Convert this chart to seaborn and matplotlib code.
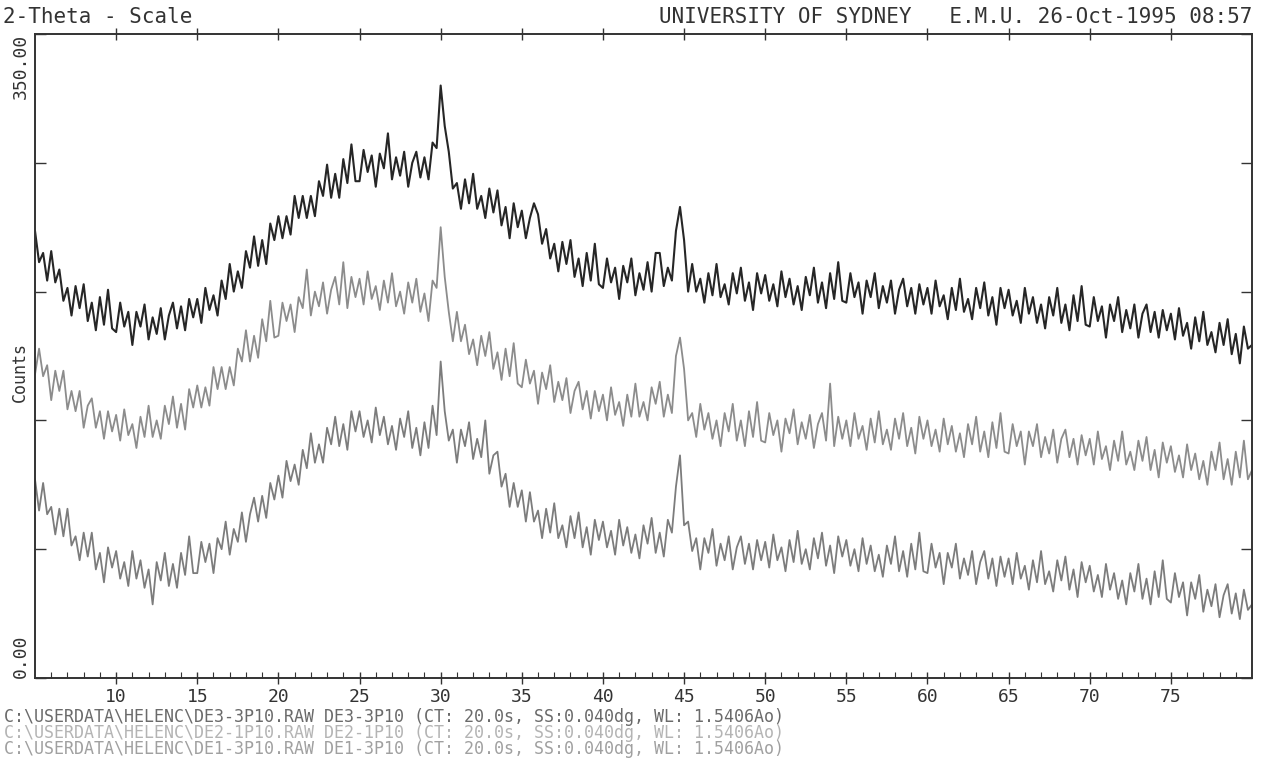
import numpy as np
import pandas as pd
import matplotlib
matplotlib.use("Agg")
import matplotlib.pyplot as plt
import seaborn as sns

# 2-theta grid: 5.00 .. 80.00 deg, 0.25 deg per reading
two_theta = np.arange(5.0, 80.001, 0.25)

# counts, one row per 5 deg block (20 readings) + the 80 deg end point
de3_3p10 = [
    243, 226, 231, 216, 232, 215, 222, 205, 212, 197, 213, 201, 214, 194, 204, 189, 207, 192, 211, 190,
    188, 204, 191, 199, 181, 199, 191, 203, 184, 196, 187, 201, 184, 197, 204, 190, 202, 189, 206, 196,
    206, 193, 212, 200, 208, 197, 216, 206, 225, 210, 221, 212, 232, 223, 240, 224, 238, 225, 247, 238,
    251, 239, 251, 241, 262, 250, 262, 250, 262, 251, 270, 262, 279, 261, 274, 261, 282, 269, 290, 270,
    270, 287, 275, 284, 267, 285, 277, 296, 271, 283, 273, 286, 267, 280, 286, 272, 283, 271, 291, 288,
    322, 300, 286, 266, 269, 255, 271, 258, 274, 255, 262, 250, 266, 253, 265, 246, 256, 239, 258, 245,
    254, 239, 250, 258, 252, 236, 244, 228, 236, 221, 237, 225, 238, 218, 228, 213, 231, 216, 236, 214,
    212, 228, 215, 223, 206, 224, 215, 228, 208, 220, 211, 226, 210, 231, 231, 213, 223, 216, 243, 256,
    238, 210, 225, 210, 217, 204, 220, 208, 225, 207, 214, 203, 220, 209, 223, 205, 215, 200, 220, 209,
    219, 205, 214, 202, 221, 207, 217, 203, 213, 200, 218, 208, 223, 204, 215, 201, 220, 206, 226, 205,
    204, 220, 207, 215, 198, 216, 207, 220, 201, 213, 204, 216, 198, 211, 217, 202, 212, 198, 214, 203,
    212, 198, 216, 202, 208, 195, 212, 200, 217, 199, 206, 195, 212, 201, 215, 197, 207, 192, 212, 201,
    211, 197, 205, 193, 212, 198, 207, 193, 203, 190, 207, 197, 212, 193, 203, 189, 208, 194, 213, 192,
    191, 207, 194, 202, 185, 203, 194, 207, 188, 200, 190, 203, 185, 198, 203, 188, 199, 185, 200, 189,
    198, 184, 201, 186, 193, 179, 196, 183, 199, 181, 188, 177, 193, 181, 195, 176, 187, 171, 191, 179,
    181,
]
de2_1p10 = [
    165, 179, 164, 170, 151, 167, 156, 167, 146, 156, 145, 156, 136, 148, 152, 136, 145, 130, 145, 134,
    143, 129, 146, 132, 138, 125, 142, 131, 148, 131, 140, 130, 148, 138, 153, 136, 149, 135, 157, 147,
    159, 147, 158, 148, 169, 157, 169, 157, 169, 159, 179, 172, 189, 172, 186, 174, 195, 183, 205, 185,
    186, 204, 194, 203, 188, 207, 201, 222, 197, 210, 202, 215, 198, 211, 218, 203, 226, 201, 218, 207,
    217, 203, 221, 206, 213, 200, 216, 204, 220, 202, 210, 198, 215, 204, 217, 199, 209, 194, 216, 212,
    245, 218, 199, 183, 199, 183, 192, 176, 184, 170, 186, 175, 188, 168, 177, 162, 179, 164, 182, 160,
    158, 173, 160, 167, 149, 166, 157, 170, 150, 161, 151, 163, 144, 156, 161, 146, 156, 141, 156, 145,
    154, 140, 158, 143, 150, 137, 154, 142, 160, 142, 150, 140, 158, 149, 161, 142, 154, 144, 175, 185,
    168, 140, 144, 131, 149, 135, 144, 130, 140, 126, 144, 134, 149, 129, 140, 126, 145, 131, 150, 129,
    128, 144, 132, 140, 123, 141, 133, 146, 127, 139, 130, 143, 125, 138, 144, 129, 160, 126, 142, 130,
    140, 126, 144, 130, 137, 124, 141, 128, 145, 127, 135, 124, 141, 130, 144, 126, 136, 122, 142, 130,
    140, 126, 135, 123, 141, 127, 137, 123, 133, 120, 138, 127, 142, 123, 134, 120, 139, 125, 144, 123,
    122, 138, 126, 134, 116, 134, 126, 138, 120, 131, 122, 135, 117, 130, 135, 120, 130, 116, 132, 121,
    130, 116, 134, 119, 126, 113, 129, 118, 134, 116, 123, 113, 129, 118, 131, 113, 124, 109, 128, 117,
    126, 112, 121, 109, 127, 113, 122, 108, 118, 105, 123, 113, 128, 108, 119, 105, 123, 109, 129, 108,
    113,
]
de1_3p10 = [
    108, 91, 106, 89, 93, 78, 92, 77, 92, 72, 77, 64, 79, 66, 79, 59, 68, 52, 71, 60,
    69, 54, 63, 50, 69, 54, 64, 49, 59, 40, 63, 53, 68, 50, 62, 49, 68, 56, 77, 57,
    57, 74, 63, 73, 57, 76, 70, 85, 67, 81, 74, 90, 74, 89, 98, 85, 99, 87, 106, 97,
    110, 98, 118, 107, 116, 105, 124, 114, 133, 117, 127, 117, 136, 127, 142, 126, 138, 124, 145, 134,
    145, 131, 140, 128, 147, 132, 142, 127, 137, 124, 141, 131, 145, 125, 136, 121, 139, 125, 148, 132,
    172, 145, 129, 135, 117, 135, 126, 139, 119, 130, 120, 140, 111, 121, 123, 104, 111, 93, 106, 93,
    102, 85, 101, 85, 91, 76, 92, 79, 95, 76, 83, 71, 88, 76, 90, 71, 82, 67, 86, 75,
    85, 71, 80, 67, 86, 72, 82, 68, 78, 65, 83, 73, 87, 68, 79, 66, 86, 79, 104, 121,
    83, 85, 69, 76, 59, 76, 68, 81, 61, 73, 64, 77, 59, 71, 77, 62, 73, 59, 75, 64,
    74, 60, 78, 64, 71, 58, 75, 63, 80, 62, 70, 59, 76, 65, 79, 61, 72, 57, 77, 66,
    75, 61, 70, 58, 76, 62, 72, 58, 67, 55, 72, 62, 77, 58, 69, 55, 73, 59, 79, 58,
    57, 73, 60, 68, 51, 68, 60, 73, 54, 65, 56, 69, 51, 63, 69, 54, 65, 50, 66, 55,
    65, 51, 68, 54, 61, 48, 64, 52, 69, 51, 58, 47, 64, 53, 66, 48, 59, 44, 63, 52,
    61, 47, 56, 44, 62, 48, 57, 43, 53, 40, 57, 47, 62, 43, 54, 40, 58, 44, 64, 43,
    41, 57, 44, 52, 34, 52, 43, 56, 36, 48, 39, 51, 33, 45, 51, 35, 46, 32, 48, 37,
    40,
]

files = ["DE3-3P10", "DE2-1P10", "DE1-3P10"]
footer = [
    "C:\\USERDATA\\HELENC\\DE3-3P10.RAW DE3-3P10 (CT: 20.0s, SS:0.040dg, WL: 1.5406Ao)",
    "C:\\USERDATA\\HELENC\\DE2-1P10.RAW DE2-1P10 (CT: 20.0s, SS:0.040dg, WL: 1.5406Ao)",
    "C:\\USERDATA\\HELENC\\DE1-3P10.RAW DE1-3P10 (CT: 20.0s, SS:0.040dg, WL: 1.5406Ao)",
]
trace_colors = {"DE3-3P10": "#262626", "DE2-1P10": "#8c8c8c", "DE1-3P10": "#7c7c7c"}
trace_widths = {"DE3-3P10": 1.5, "DE2-1P10": 1.3, "DE1-3P10": 1.3}
footer_colors = ["#6a6a6a", "#b4b4b4", "#a0a0a0"]

df = pd.concat([
    pd.DataFrame({"two_theta": two_theta, "counts": de3_3p10, "file": files[0]}),
    pd.DataFrame({"two_theta": two_theta, "counts": de2_1p10, "file": files[1]}),
    pd.DataFrame({"two_theta": two_theta, "counts": de1_3p10, "file": files[2]}),
])

sns.set_style("white")
plt.rcParams["font.family"] = ["DejaVu Sans Mono", "DejaVu Sans"]

fig = plt.figure(figsize=(12.64, 7.64), dpi=100)
ax = fig.add_axes([35 / 1264, 86 / 764, 1217 / 1264, 644 / 764])

# draw the two grey scans first, the dark one on top
for f in files[::-1]:
    sns.lineplot(data=df[df["file"] == f], x="two_theta", y="counts", color=trace_colors[f],
                 estimator=None, sort=False, legend=False, ax=ax, linewidth=trace_widths[f])

ax.set_xlim(5, 80)
ax.set_ylim(0, 350)
ax.set_xlabel("")
ax.set_ylabel("Counts", fontsize=12, color="#333333")
ax.yaxis.set_label_coords(-6 / 1217, 0.475)

ax.set_xticks(np.arange(10, 80, 5))
ax.set_xticks(np.arange(6, 80, 1), minor=True)
ax.set_xticklabels([str(v) for v in range(10, 80, 5)], fontsize=13, color="#333333")

ax.set_yticks([0, 70, 140, 210, 280, 350])
ax.set_yticklabels(["0.00", "", "", "", "", "350.00"], rotation=90, fontsize=13, color="#333333")
ylabs = ax.get_yticklabels()
ylabs[0].set_va("bottom")
ylabs[-1].set_va("top")

ax.tick_params(which="major", direction="in", length=8, width=1.0, color="#333333",
               top=True, right=True, bottom=True, left=True, pad=4)
ax.tick_params(axis="x", which="major", direction="inout", length=9, pad=3)
ax.tick_params(which="minor", direction="in", length=4, width=0.8, color="#333333",
               bottom=True, top=False)

for s in ax.spines.values():
    s.set_color("#333333")
    s.set_linewidth(1.4)

fig.text(3 / 1264, 1 - 17 / 764, "2-Theta - Scale", fontsize=15, color="#333333", va="center", ha="left")
fig.text(1252 / 1264, 1 - 17 / 764, "UNIVERSITY OF SYDNEY   E.M.U. 26-Oct-1995 08:57",
         fontsize=15, color="#333333", va="center", ha="right")

for i, (line, c) in enumerate(zip(footer, footer_colors)):
    fig.text(4 / 1264, 1 - (717 + 16 * i) / 764, line, fontsize=12, color=c, va="center", ha="left")

fig.savefig("out.png", dpi=100)
